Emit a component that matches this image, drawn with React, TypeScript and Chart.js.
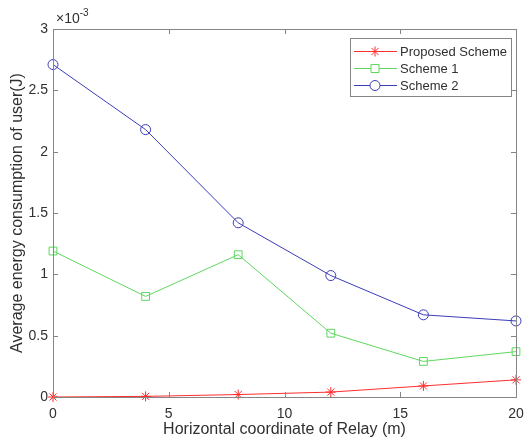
import React, { useEffect, useRef } from "react";
import { Chart, registerables } from "chart.js";

Chart.register(...registerables);

// Horizontal coordinate of relay (m)
const xValues = [0, 4, 8, 12, 16, 20];
// Average energy consumption (units of 1e-3 J)
const proposed = [0.0, 0.005, 0.02, 0.04, 0.09, 0.14];
const scheme1 = [1.19, 0.82, 1.16, 0.52, 0.29, 0.37];
const scheme2 = [2.71, 2.18, 1.42, 0.99, 0.67, 0.62];
const seriesNames = ["Proposed Scheme", "Scheme 1", "Scheme 2"];
const xTicks = [0, 5, 10, 15, 20];
const yTicks = [0, 0.5, 1, 1.5, 2, 2.5, 3];

const RED = "rgb(255,45,45)";
const GREEN = "rgb(95,215,95)";
const BLUE = "rgb(60,60,185)";
const AXIS = "#858585";
const TEXT = "#303030";
const FONT = "Liberation Sans, Arial, sans-serif";

function drawMarker(ctx: CanvasRenderingContext2D, style: string, x: number, y: number, color: string) {
  ctx.save();
  ctx.strokeStyle = color;
  ctx.lineWidth = 1;
  ctx.beginPath();
  if (style === "circle") {
    ctx.arc(x, y, 5, 0, Math.PI * 2);
    ctx.fillStyle = "#fff";
    ctx.fill();
  } else if (style === "rect") {
    ctx.fillStyle = "#fff";
    ctx.fillRect(x - 4, y - 4, 8, 8);
    ctx.rect(x - 4, y - 4, 8, 8);
  } else {
    const r = 5;
    for (let k = 0; k < 4; k++) {
      const ang = (k * Math.PI) / 4;
      ctx.moveTo(x - r * Math.cos(ang), y - r * Math.sin(ang));
      ctx.lineTo(x + r * Math.cos(ang), y + r * Math.sin(ang));
    }
  }
  ctx.stroke();
  ctx.restore();
}

const boxPlugin = {
  id: "matlabBox",
  afterDraw(chart: any) {
    const { ctx, chartArea: a, scales } = chart;
    const xs = scales.x;
    const ys = scales.y;
    ctx.save();
    ctx.strokeStyle = AXIS;
    ctx.lineWidth = 1;
    ctx.strokeRect(a.left + 0.5, a.top + 0.5, a.right - a.left, a.bottom - a.top);
    const tl = 5;
    ctx.beginPath();
    for (const t of xTicks) {
      const px = Math.round(xs.getPixelForValue(t)) + 0.5;
      ctx.moveTo(px, a.bottom);
      ctx.lineTo(px, a.bottom - tl);
      ctx.moveTo(px, a.top);
      ctx.lineTo(px, a.top + tl);
    }
    for (const t of yTicks) {
      const py = Math.round(ys.getPixelForValue(t)) + 0.5;
      ctx.moveTo(a.left, py);
      ctx.lineTo(a.left + tl, py);
      ctx.moveTo(a.right, py);
      ctx.lineTo(a.right - tl, py);
    }
    ctx.stroke();

    // exponent label
    ctx.fillStyle = TEXT;
    ctx.textBaseline = "alphabetic";
    ctx.textAlign = "left";
    ctx.font = `14px ${FONT}`;
    ctx.fillText("\u00d710", a.left + 3, a.top - 6);
    const w = ctx.measureText("\u00d710").width;
    ctx.font = `10px ${FONT}`;
    ctx.fillText("-3", a.left + 3 + w, a.top - 13);

    // legend
    const lx = 350, ly = 38, lw = 161, lh = 58;
    ctx.fillStyle = "#ffffff";
    ctx.fillRect(lx, ly, lw, lh);
    ctx.strokeStyle = AXIS;
    ctx.strokeRect(lx + 0.5, ly + 0.5, lw, lh);
    const colors = [RED, GREEN, BLUE];
    const styles = ["star", "rect", "circle"];
    for (let i = 0; i < 3; i++) {
      const cy = ly + 13 + i * 17;
      ctx.strokeStyle = colors[i];
      ctx.lineWidth = 1;
      ctx.beginPath();
      ctx.moveTo(lx + 4, cy + 0.5);
      ctx.lineTo(lx + 47, cy + 0.5);
      ctx.stroke();
      drawMarker(ctx, styles[i], lx + 25, cy + 0.5, colors[i]);
      ctx.fillStyle = TEXT;
      ctx.font = `13px ${FONT}`;
      ctx.textBaseline = "middle";
      ctx.fillText(seriesNames[i], lx + 50, cy + 1);
    }
    ctx.restore();
  },
};

export default function App() {
  const ref = useRef<HTMLCanvasElement>(null);
  useEffect(() => {
    document.body.style.margin = "0";
    const mk = (data: number[], color: string, ps: string, r: number) => ({
      data: xValues.map((x, i) => ({ x, y: data[i] })),
      borderColor: color,
      backgroundColor: "rgba(0,0,0,0)",
      pointBorderColor: color,
      pointBackgroundColor: "rgba(0,0,0,0)",
      borderWidth: 1,
      pointBorderWidth: 1,
      pointStyle: ps,
      pointRadius: r,
      tension: 0,
      clip: false as any,
    });
    const chart = new Chart(ref.current!, {
      type: "line",
      data: {
        datasets: [
          { label: seriesNames[0], ...mk(proposed, RED, "star", 5) },
          { label: seriesNames[1], ...mk(scheme1, GREEN, "rect", 5.5) },
          { label: seriesNames[2], ...mk(scheme2, BLUE, "circle", 5) },
        ] as any,
      },
      options: {
        animation: false,
        responsive: false,
        devicePixelRatio: 1,
        layout: { padding: { top: 29, right: 13, left: 0, bottom: 0 } },
        plugins: { legend: { display: false }, tooltip: { enabled: false } },
        scales: {
          x: {
            type: "linear",
            min: 0,
            max: 20,
            afterFit: (s: any) => { s.height = 45; s.paddingLeft = 0; s.paddingRight = 0; },
            afterBuildTicks: (s: any) => { s.ticks = xTicks.map((v) => ({ value: v })); },
            grid: { display: false, drawTicks: false },
            border: { display: false },
            ticks: { color: TEXT, font: { size: 14, family: FONT }, padding: 9, maxRotation: 0 },
            title: { display: true, text: "Horizontal coordinate of Relay (m)", color: TEXT, font: { size: 16, family: FONT }, padding: { top: 0, bottom: 3 } },
          },
          y: {
            type: "linear",
            min: 0,
            max: 3,
            afterFit: (s: any) => { s.width = 53; s.paddingTop = 0; s.paddingBottom = 0; },
            afterBuildTicks: (s: any) => { s.ticks = yTicks.map((v) => ({ value: v })); },
            grid: { display: false, drawTicks: false },
            border: { display: false },
            ticks: { color: TEXT, font: { size: 14, family: FONT }, padding: 5, callback: (v: any) => String(v) },
            title: { display: true, text: "Average energy consumption of user(J)", color: TEXT, font: { size: 16, family: FONT }, padding: { top: 8, bottom: 0 } },
          },
        },
      },
      plugins: [boxPlugin],
    } as any);
    return () => chart.destroy();
  }, []);
  return (
    <div style={{ position: "absolute", left: 0, top: 0, width: 529, height: 442, background: "#fff" }}>
      <canvas ref={ref} width={529} height={442} />
    </div>
  );
}
